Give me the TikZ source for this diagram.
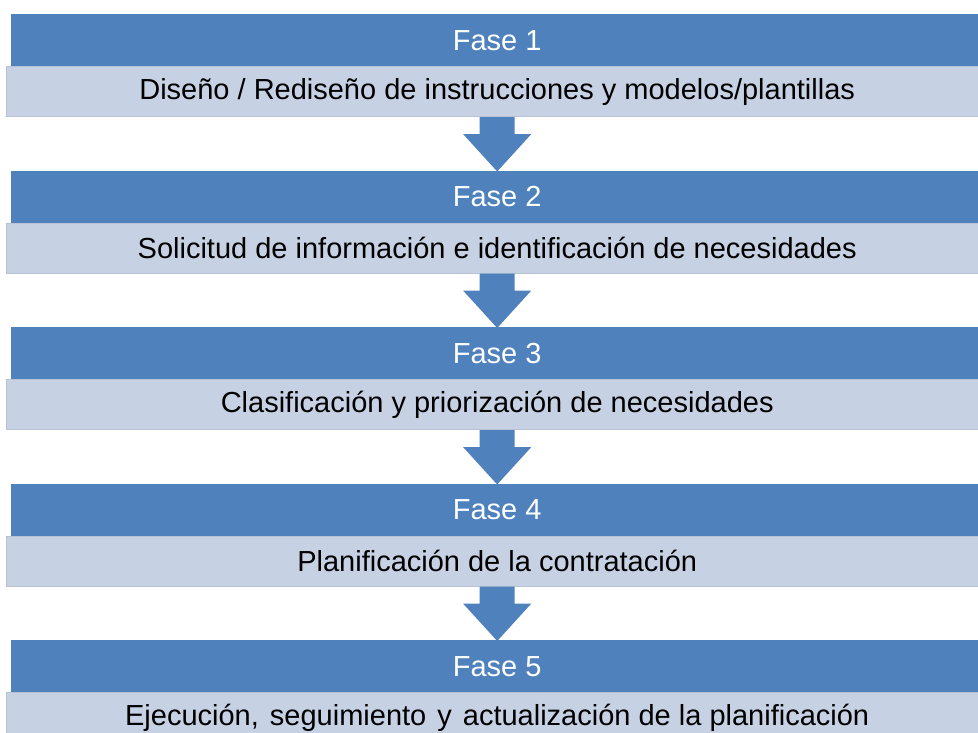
\documentclass[tikz,border=0pt]{standalone}
\usepackage{fontspec}
\setmainfont{Liberation Sans}
\usetikzlibrary{positioning,calc}
\definecolor{faseazul}{RGB}{79,129,189}
\definecolor{faseclaro}{RGB}{198,209,228}
\tikzset{
  cabecera/.style={fill=faseazul, text=white, minimum width=972pt,
    minimum height=52pt, inner sep=0pt, font=\fontsize{29}{32}\selectfont},
  detalle/.style={fill=faseclaro, draw=faseclaro!93!black, line width=0.8pt,
    minimum width=982pt, minimum height=50pt, inner sep=0pt,
    font=\fontsize{29}{32}\selectfont},
  flecha/.style={fill=faseazul}
}

\begin{document}
\begin{tikzpicture}[x=1pt,y=1pt]
            \useasboundingbox (0,0) rectangle (978,-733);
            % Fases
            \foreach \i/\txt in {1/{Diseño / Rediseño de instrucciones y modelos/plantillas},
                2/{Solicitud de información e identificación de necesidades},
                3/{Clasificación y priorización de necesidades},
                4/{Planificación de la contratación},
                5/{Ejecución,\hspace{3pt} seguimiento\hspace{3pt} y\hspace{3pt} actualización de la planificación}}{
            \node[cabecera,anchor=north west] (fase\i) at (11,{-14-156.5*(\i-1)}) {Fase \i};
            \node[detalle,below=0pt of fase\i] (desc\i) {\txt};
            }
            % Flechas
            \foreach \i [evaluate=\i as \j using int(\i+1)] in {1,...,4}{
            \fill[flecha] ($(desc\i.south)+(-17.5,0)$) -- ($(desc\i.south)+(17.5,0)$)
                -- ($(desc\i.south)+(17.5,-17)$) -- ($(desc\i.south)+(34,-17)$)
                -- ($(fase\j.north)+(0,-1)$) -- ($(desc\i.south)+(-34,-17)$)
                -- ($(desc\i.south)+(-17.5,-17)$) -- cycle;
            }
\end{tikzpicture}
\end{document}
